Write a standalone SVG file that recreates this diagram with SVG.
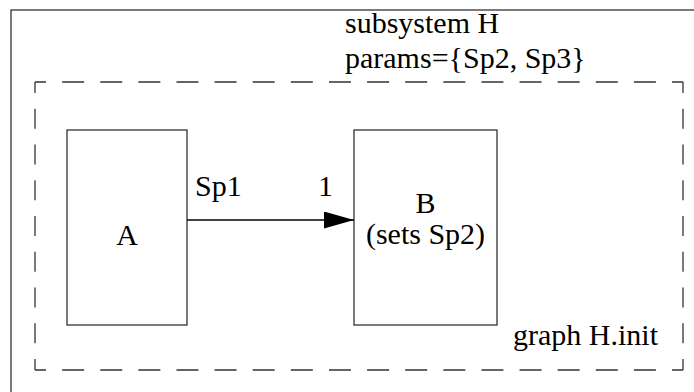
<svg xmlns="http://www.w3.org/2000/svg" width="694" height="392" viewBox="0 0 694 392">
<style>
.t{font-family:"Liberation Serif","Times New Roman",serif;font-size:30px;fill:#000}
.box{fill:none;stroke:#333;stroke-width:1.3}
.dh{fill:none;stroke:#333;stroke-width:1.3;stroke-dasharray:22 16.12;stroke-dashoffset:11}
.dv{fill:none;stroke:#333;stroke-width:1.3;stroke-dasharray:20 15.75;stroke-dashoffset:9}
</style>
<defs>
<marker id="ah" markerWidth="30" markerHeight="17" refX="30" refY="8.5" orient="auto" markerUnits="userSpaceOnUse">
<path d="M0,0 L30,8.5 L0,17 Z" fill="#000"/>
</marker>
</defs>
<rect x="11" y="10" width="700" height="400" class="box"/>
<g id="subsystem">
<text class="t" x="345" y="33">subsystem H</text>
<text class="t" x="345" y="68">params={Sp2, Sp3}</text>
</g>
<g id="graph">
<path class="dh" d="M35,82 H683"/>
<path class="dh" d="M35,370 H683"/>
<path class="dv" d="M35,82 V370"/>
<path class="dv" d="M683,82 V370"/>
<text class="t" x="513" y="345">graph H.init</text>
</g>
<g id="A">
<rect class="box" x="67" y="130" width="120" height="195"/>
<text class="t" x="127" y="245" text-anchor="middle">A</text>
</g>
<g id="B">
<rect class="box" x="354" y="130" width="143" height="195"/>
<text class="t" x="425.5" y="213" text-anchor="middle">B</text>
<text class="t" x="425.5" y="244" text-anchor="middle">(sets Sp2)</text>
</g>
<g id="connectors">
<line x1="187" y1="220" x2="354" y2="220" stroke="#000" stroke-width="1.3" marker-end="url(#ah)"/>
<text class="t" x="195" y="196">Sp1</text>
<text class="t" x="318" y="196">1</text>
</g>
</svg>
